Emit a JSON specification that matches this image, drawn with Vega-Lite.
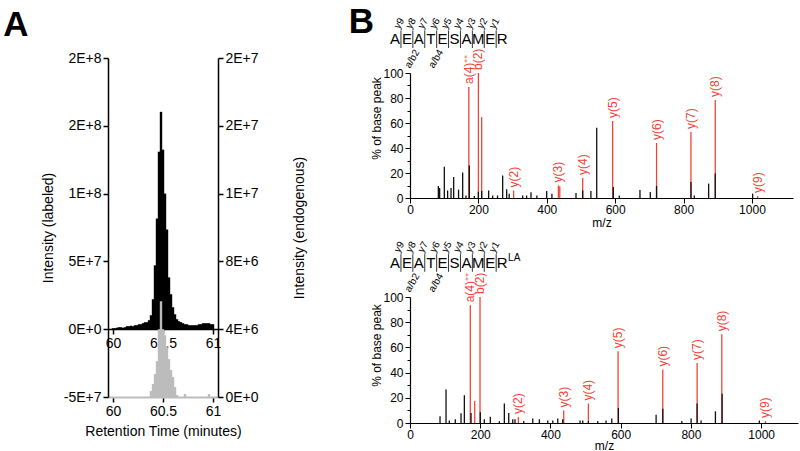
{
  "$schema": "https://vega.github.io/schema/vega-lite/v6.json",
  "background": "white",
  "padding": {"left": 3, "top": 5, "right": 2, "bottom": 0},
  "config": {
    "view": {"stroke": null},
    "axis": {"labelFont": "Liberation Sans", "titleFont": "Liberation Sans", "titleFontWeight": "normal", "labelColor": "#000", "titleColor": "#000", "domainColor": "#000", "tickColor": "#000", "grid": false, "labelFlush": false, "labelOverlap": false},
    "title": {"font": "Liberation Sans", "color": "#000"}
  },
  "datasets": {
    "chrom": [
      {"t": 60.00, "lab": 740000, "endo": 0}, {"t": 60.02, "lab": 740000, "endo": 0}, {"t": 60.04, "lab": 1100000, "endo": 0},
      {"t": 60.06, "lab": 1470000, "endo": 0}, {"t": 60.08, "lab": 1470000, "endo": 0}, {"t": 60.10, "lab": 1100000, "endo": 0},
      {"t": 60.12, "lab": 1470000, "endo": 0}, {"t": 60.14, "lab": 2200000, "endo": 0}, {"t": 60.16, "lab": 2200000, "endo": 0},
      {"t": 60.18, "lab": 2570000, "endo": 0}, {"t": 60.20, "lab": 2200000, "endo": 0}, {"t": 60.22, "lab": 2940000, "endo": 0},
      {"t": 60.24, "lab": 2940000, "endo": 0}, {"t": 60.26, "lab": 3680000, "endo": 0}, {"t": 60.28, "lab": 3680000, "endo": 0},
      {"t": 60.30, "lab": 4410000, "endo": 0}, {"t": 60.32, "lab": 5150000, "endo": 0}, {"t": 60.34, "lab": 5150000, "endo": 0},
      {"t": 60.36, "lab": 6620000, "endo": 0}, {"t": 60.38, "lab": 10300000, "endo": 352900}, {"t": 60.40, "lab": 22100000, "endo": 764700},
      {"t": 60.42, "lab": 47100000, "endo": 1353000}, {"t": 60.44, "lab": 81600000, "endo": 2118000}, {"t": 60.46, "lab": 130900000, "endo": 4000000},
      {"t": 60.48, "lab": 160300000, "endo": 5647000}, {"t": 60.50, "lab": 132400000, "endo": 4000000}, {"t": 60.52, "lab": 100000000, "endo": 3647000},
      {"t": 60.54, "lab": 73500000, "endo": 2941000}, {"t": 60.56, "lab": 38200000, "endo": 2235000}, {"t": 60.58, "lab": 25700000, "endo": 1588000},
      {"t": 60.60, "lab": 16200000, "endo": 1176000}, {"t": 60.62, "lab": 11000000, "endo": 588000}, {"t": 60.64, "lab": 7350000, "endo": 118000},
      {"t": 60.66, "lab": 5880000, "endo": 0}, {"t": 60.68, "lab": 5150000, "endo": 0}, {"t": 60.70, "lab": 4410000, "endo": 0},
      {"t": 60.72, "lab": 3680000, "endo": 176000}, {"t": 60.74, "lab": 3680000, "endo": 0}, {"t": 60.76, "lab": 2940000, "endo": 0},
      {"t": 60.78, "lab": 2940000, "endo": 0}, {"t": 60.80, "lab": 2940000, "endo": 0}, {"t": 60.82, "lab": 2940000, "endo": 0},
      {"t": 60.84, "lab": 2940000, "endo": 0}, {"t": 60.86, "lab": 3680000, "endo": 0}, {"t": 60.88, "lab": 3680000, "endo": 0},
      {"t": 60.90, "lab": 4410000, "endo": 0}, {"t": 60.92, "lab": 4410000, "endo": 0}, {"t": 60.94, "lab": 4410000, "endo": 0},
      {"t": 60.96, "lab": 4410000, "endo": 176000}, {"t": 60.98, "lab": 3680000, "endo": 0}, {"t": 61.00, "lab": 3680000, "endo": 0}
    ],
    "specTop": [
      {"mz": 172, "int": 88.8, "kind": "ion", "label": "a(4)⁺⁺"},
      {"mz": 200, "int": 100, "kind": "ion", "label": "b(2)"},
      {"mz": 209.6, "int": 64.8, "kind": "ion", "label": ""},
      {"mz": 303, "int": 6, "kind": "ion", "label": "y(2)"},
      {"mz": 434, "int": 10, "kind": "ion", "label": "y(3)"},
      {"mz": 438, "int": 9.5, "kind": "ion", "label": ""},
      {"mz": 505, "int": 16, "kind": "ion", "label": "y(4)"},
      {"mz": 592.6, "int": 61.6, "kind": "ion", "label": "y(5)"},
      {"mz": 721, "int": 44, "kind": "ion", "label": "y(6)"},
      {"mz": 821.6, "int": 52.8, "kind": "ion", "label": "y(7)"},
      {"mz": 892.7, "int": 78.4, "kind": "ion", "label": "y(8)"},
      {"mz": 1016.6, "int": 1.6, "kind": "ion", "label": "y(9)"},
      {"mz": 82.9, "int": 9.6, "kind": "other", "label": ""},
      {"mz": 86.7, "int": 8, "kind": "other", "label": ""},
      {"mz": 100.4, "int": 25, "kind": "other", "label": ""},
      {"mz": 110, "int": 6, "kind": "other", "label": ""},
      {"mz": 120, "int": 8, "kind": "other", "label": ""},
      {"mz": 127.7, "int": 16.8, "kind": "other", "label": ""},
      {"mz": 142, "int": 6.7, "kind": "other", "label": ""},
      {"mz": 154, "int": 20.5, "kind": "other", "label": ""},
      {"mz": 163.7, "int": 2, "kind": "other", "label": ""},
      {"mz": 173.5, "int": 26, "kind": "other", "label": ""},
      {"mz": 188, "int": 1.6, "kind": "other", "label": ""},
      {"mz": 200, "int": 5, "kind": "other", "label": ""},
      {"mz": 209.6, "int": 5.6, "kind": "other", "label": ""},
      {"mz": 230, "int": 6.1, "kind": "other", "label": ""},
      {"mz": 241.7, "int": 2, "kind": "other", "label": ""},
      {"mz": 256, "int": 2, "kind": "other", "label": ""},
      {"mz": 271, "int": 18, "kind": "other", "label": ""},
      {"mz": 282.7, "int": 7, "kind": "other", "label": ""},
      {"mz": 290, "int": 3.5, "kind": "other", "label": ""},
      {"mz": 329.5, "int": 2, "kind": "other", "label": ""},
      {"mz": 341, "int": 2, "kind": "other", "label": ""},
      {"mz": 353.8, "int": 4.6, "kind": "other", "label": ""},
      {"mz": 371, "int": 2, "kind": "other", "label": ""},
      {"mz": 399.7, "int": 5.6, "kind": "other", "label": ""},
      {"mz": 415, "int": 3.5, "kind": "other", "label": ""},
      {"mz": 485.4, "int": 4, "kind": "other", "label": ""},
      {"mz": 505, "int": 6, "kind": "other", "label": ""},
      {"mz": 529, "int": 5.6, "kind": "other", "label": ""},
      {"mz": 546, "int": 56.3, "kind": "other", "label": ""},
      {"mz": 594.5, "int": 8.8, "kind": "other", "label": ""},
      {"mz": 612, "int": 2, "kind": "other", "label": ""},
      {"mz": 672.5, "int": 6.4, "kind": "other", "label": ""},
      {"mz": 702.7, "int": 4.8, "kind": "other", "label": ""},
      {"mz": 721, "int": 9.6, "kind": "other", "label": ""},
      {"mz": 821.6, "int": 12.8, "kind": "other", "label": ""},
      {"mz": 831.4, "int": 2, "kind": "other", "label": ""},
      {"mz": 873.3, "int": 11.5, "kind": "other", "label": ""},
      {"mz": 892.7, "int": 19.7, "kind": "other", "label": ""},
      {"mz": 1002, "int": 3.5, "kind": "other", "label": ""}
    ],
    "specBot": [
      {"mz": 171.8, "int": 93.4, "kind": "ion", "label": "a(4)⁺⁺"},
      {"mz": 199.4, "int": 100, "kind": "ion", "label": "b(2)"},
      {"mz": 184.3, "int": 17.5, "kind": "ion", "label": ""},
      {"mz": 308.6, "int": 4.8, "kind": "ion", "label": "y(2)"},
      {"mz": 437.8, "int": 10, "kind": "ion", "label": "y(3)"},
      {"mz": 508, "int": 15.4, "kind": "ion", "label": "y(4)"},
      {"mz": 592.6, "int": 57, "kind": "ion", "label": "y(5)"},
      {"mz": 719.9, "int": 42.4, "kind": "ion", "label": "y(6)"},
      {"mz": 817.7, "int": 47.6, "kind": "ion", "label": "y(7)"},
      {"mz": 888, "int": 70.4, "kind": "ion", "label": "y(8)"},
      {"mz": 1012.3, "int": 1.5, "kind": "ion", "label": "y(9)"},
      {"mz": 85.5, "int": 5.3, "kind": "other", "label": ""},
      {"mz": 102.6, "int": 26.5, "kind": "other", "label": ""},
      {"mz": 112, "int": 2, "kind": "other", "label": ""},
      {"mz": 129, "int": 3, "kind": "other", "label": ""},
      {"mz": 145.3, "int": 7.8, "kind": "other", "label": ""},
      {"mz": 154.8, "int": 22, "kind": "other", "label": ""},
      {"mz": 173.8, "int": 8, "kind": "other", "label": ""},
      {"mz": 200.3, "int": 8.5, "kind": "other", "label": ""},
      {"mz": 211.7, "int": 3, "kind": "other", "label": ""},
      {"mz": 228.8, "int": 5, "kind": "other", "label": ""},
      {"mz": 254.5, "int": 1.5, "kind": "other", "label": ""},
      {"mz": 268.7, "int": 15.4, "kind": "other", "label": ""},
      {"mz": 281.2, "int": 8, "kind": "other", "label": ""},
      {"mz": 292.6, "int": 3, "kind": "other", "label": ""},
      {"mz": 299, "int": 3, "kind": "other", "label": ""},
      {"mz": 323.9, "int": 1.5, "kind": "other", "label": ""},
      {"mz": 349.6, "int": 3.5, "kind": "other", "label": ""},
      {"mz": 368.4, "int": 3, "kind": "other", "label": ""},
      {"mz": 392.3, "int": 2, "kind": "other", "label": ""},
      {"mz": 406.6, "int": 2, "kind": "other", "label": ""},
      {"mz": 420.8, "int": 3.5, "kind": "other", "label": ""},
      {"mz": 435, "int": 3, "kind": "other", "label": ""},
      {"mz": 484.3, "int": 2, "kind": "other", "label": ""},
      {"mz": 492, "int": 2, "kind": "other", "label": ""},
      {"mz": 508, "int": 1.5, "kind": "other", "label": ""},
      {"mz": 534.8, "int": 1.5, "kind": "other", "label": ""},
      {"mz": 558.4, "int": 2, "kind": "other", "label": ""},
      {"mz": 574.6, "int": 3.5, "kind": "other", "label": ""},
      {"mz": 593.5, "int": 12, "kind": "other", "label": ""},
      {"mz": 700.9, "int": 6.6, "kind": "other", "label": ""},
      {"mz": 719.9, "int": 11.4, "kind": "other", "label": ""},
      {"mz": 774, "int": 1.5, "kind": "other", "label": ""},
      {"mz": 800.6, "int": 3.5, "kind": "other", "label": ""},
      {"mz": 817.7, "int": 15.4, "kind": "other", "label": ""},
      {"mz": 829, "int": 2, "kind": "other", "label": ""},
      {"mz": 869.8, "int": 9.3, "kind": "other", "label": ""},
      {"mz": 888.9, "int": 23.3, "kind": "other", "label": ""},
      {"mz": 995, "int": 2, "kind": "other", "label": ""}
    ],
    "residues": [
      {"pos": 1, "aa": "A"}, {"pos": 2, "aa": "E"}, {"pos": 3, "aa": "A"}, {"pos": 4, "aa": "T"}, {"pos": 5, "aa": "E"},
      {"pos": 6, "aa": "S"}, {"pos": 7, "aa": "A"}, {"pos": 8, "aa": "M"}, {"pos": 9, "aa": "E"}, {"pos": 10, "aa": "R"}
    ],
    "cleavages": [
      {"pos": 1.5, "ion": "y9", "ab": ""}, {"pos": 2.5, "ion": "y8", "ab": "a/b2"}, {"pos": 3.5, "ion": "y7", "ab": ""},
      {"pos": 4.5, "ion": "y6", "ab": "a/b4"}, {"pos": 5.5, "ion": "y5", "ab": ""}, {"pos": 6.5, "ion": "y4", "ab": ""},
      {"pos": 7.5, "ion": "y3", "ab": ""}, {"pos": 8.5, "ion": "y2", "ab": ""}, {"pos": 9.5, "ion": "y1", "ab": ""}
    ]
  },
  "spacing": 41,
  "align": "none",
  "hconcat": [
    {
      "width": 110,
      "height": 339,
      "title": {"text": "A", "anchor": "start", "frame": "bounds", "fontSize": 35, "fontWeight": "bold", "dx": -38, "offset": 8},
      "data": {"name": "chrom"},
      "layer": [
        {
          "mark": {"type": "bar", "color": "#000", "width": 2.4},
          "encoding": {
            "x": {"field": "t", "type": "quantitative", "scale": {"domain": [60, 61], "nice": false},
                  "axis": {"orient": "bottom", "offset": -68, "values": [60, 60.5, 61], "format": "~g", "labelOverlap": false, "title": null, "labelFontSize": 14, "domainWidth": 1.5, "tickWidth": 1.5}},
            "y": {"field": "lab", "type": "quantitative", "scale": {"domain": [-50000000, 200000000], "nice": false},
                  "axis": {"orient": "left", "values": [-50000000, 0, 50000000, 100000000, 150000000, 200000000], "labelOverlap": false,
                           "labelExpr": "replace(replace(format(datum.value, '.0e'), 'e', 'E'), '\u2212', '-')",
                           "title": "Intensity (labeled)", "labelFontSize": 14, "titleFontSize": 14, "domainWidth": 1.5, "tickWidth": 1.5, "titlePadding": 8}}
          }
        },
        {
          "mark": {"type": "bar", "color": "#bcbcbc", "width": 2.4},
          "encoding": {
            "x": {"field": "t", "type": "quantitative",
                  "axis": {"orient": "bottom", "values": [60, 60.5, 61], "format": "~g", "labelOverlap": false, "title": "Retention Time (minutes)", "labelFontSize": 14, "titleFontSize": 14, "domainColor": "#bcbcbc", "domainWidth": 2, "tickWidth": 1.5, "titlePadding": 6}},
            "y": {"field": "endo", "type": "quantitative", "scale": {"domain": [0, 20000000], "nice": false},
                  "axis": {"orient": "right", "values": [0, 4000000, 8000000, 12000000, 16000000, 20000000], "labelOverlap": false,
                           "labelExpr": "replace(format(datum.value, '.0e'), 'e', 'E')",
                           "title": "Intensity (endogenous)", "titleAngle": 270, "titleBaseline": "top", "labelFontSize": 14, "titleFontSize": 14, "domainWidth": 1.5, "tickWidth": 1.5, "titlePadding": 34}}
          }
        }
      ],
      "resolve": {"scale": {"y": "independent"}, "axis": {"x": "independent", "y": "independent"}}
    },
    {
      "spacing": 12,
      "vconcat": [
        {
          "width": 383,
          "height": 140,
          "title": {"text": "B", "anchor": "start", "frame": "bounds", "fontSize": 35, "fontWeight": "bold", "dx": -22, "offset": -24},
          "layer": [
            {
              "data": {"name": "specTop"},
              "layer": [
                {
                  "transform": [{"filter": "datum.kind == 'ion'"}],
                  "mark": {"type": "rule", "color": "#f04438", "strokeWidth": 1.3},
                  "encoding": {
                    "x": {"field": "mz", "type": "quantitative", "title": "m/z", "scale": {"domain": [0, 1120], "nice": false},
                          "axis": {"values": [0,50,100,150,200,250,300,350,400,450,500,550,600,650,700,750,800,850,900,950,1000,1050,1100], "labelOverlap": false,
                                   "labelExpr": "datum.value % 200 == 0 ? format(datum.value, 'd') : ''", "labelFontSize": 12, "titleFontSize": 12,
                                   "tickSize": {"condition": {"test": "datum.value % 200 != 0", "value": 3}, "value": 5}, "titlePadding": 2, "labelPadding": 1, "domainWidth": 1.2}},
                    "y": {"field": "int", "type": "quantitative", "title": "% of base peak", "scale": {"domain": [0, 100], "nice": false, "range": [140, 15]},
                          "axis": {"values": [0,40,80], "format": "d", "labelFontSize": 12, "titleFontSize": 12, "titleY": 60,
                                   "tickSize": 5, "titlePadding": 6, "domainWidth": 1.2}},
                    "y2": {"datum": 0}
                  }
                },
                {
                  "transform": [{"filter": "datum.kind == 'other'"}],
                  "mark": {"type": "rule", "color": "#111", "strokeWidth": 1.3},
                  "encoding": {
                    "x": {"field": "mz", "type": "quantitative", "title": "m/z"},
                    "y": {"field": "int", "type": "quantitative", "title": "% of base peak"},
                    "y2": {"datum": 0}
                  }
                },
                {
                  "transform": [{"filter": "datum.label != ''"}],
                  "mark": {"type": "text", "angle": 270, "align": "left", "baseline": "middle", "dx": 3, "color": "#f04438", "fontSize": 12, "font": "Liberation Sans"},
                  "encoding": {
                    "x": {"field": "mz", "type": "quantitative", "title": "m/z"},
                    "y": {"field": "int", "type": "quantitative", "title": "% of base peak"},
                    "text": {"field": "label"}
                  }
                }
              ]
            },
            {
              "layer": [
                {
                  "data": {"name": "residues"},
                  "mark": {"type": "text", "fontSize": 15, "font": "Liberation Sans", "baseline": "middle", "align": "center", "color": "#000"},
                  "encoding": {
                    "x": {"field": "pos", "type": "quantitative", "scale": {"domain": [2.26, 34.44], "nice": false, "zero": false}, "axis": null},
                    "y": {"datum": 127, "type": "quantitative", "scale": {"domain": [0, 100], "nice": false, "range": [140, 15]},
                          "axis": {"orient": "left", "values": [20, 60, 100], "format": "d", "labelFontSize": 12, "domain": false, "tickSize": 5, "title": null}},
                    "text": {"field": "aa"}
                  }
                },
                {
                  "data": {"name": "cleavages"},
                  "mark": {"type": "rule", "color": "#333", "strokeWidth": 1},
                  "encoding": {
                    "x": {"field": "pos", "type": "quantitative"},
                    "y": {"datum": 120, "axis": {"orient": "left", "values": [10, 30, 50, 70, 90], "labels": false, "domain": false, "tickSize": 3, "title": null}},
                    "y2": {"datum": 134}
                  }
                },
                {
                  "data": {"name": "cleavages"},
                  "mark": {"type": "text", "angle": 300, "align": "left", "baseline": "bottom", "fontSize": 10, "font": "Liberation Sans", "color": "#000"},
                  "encoding": {
                    "x": {"field": "pos", "type": "quantitative"},
                    "y": {"datum": 134, "axis": null},
                    "text": {"field": "ion"}
                  }
                },
                {
                  "data": {"name": "cleavages"},
                  "mark": {"type": "text", "angle": 300, "align": "right", "baseline": "top", "fontSize": 10, "font": "Liberation Sans", "color": "#000"},
                  "encoding": {
                    "x": {"field": "pos", "type": "quantitative"},
                    "y": {"datum": 120, "axis": null},
                    "text": {"field": "ab"}
                  }
                }
              ],
              "resolve": {"axis": {"y": "independent"}}
            }
          ],
          "resolve": {"scale": {"x": "independent", "y": "independent"}}
        },
        {
          "width": 388,
          "height": 126,
          "layer": [
            {
              "data": {"name": "specBot"},
              "layer": [
                {
                  "transform": [{"filter": "datum.kind == 'ion'"}],
                  "mark": {"type": "rule", "color": "#f04438", "strokeWidth": 1.3},
                  "encoding": {
                    "x": {"field": "mz", "type": "quantitative", "title": "m/z", "scale": {"domain": [0, 1105], "nice": false},
                          "axis": {"values": [0,50,100,150,200,250,300,350,400,450,500,550,600,650,700,750,800,850,900,950,1000,1050,1100], "labelOverlap": false,
                                   "labelExpr": "datum.value % 200 == 0 ? format(datum.value, 'd') : ''", "labelFontSize": 12, "titleFontSize": 12,
                                   "tickSize": {"condition": {"test": "datum.value % 200 != 0", "value": 3}, "value": 5}, "titlePadding": 0, "labelPadding": 1, "domainWidth": 1.2}},
                    "y": {"field": "int", "type": "quantitative", "title": "% of base peak", "scale": {"domain": [0, 100], "nice": false},
                          "axis": {"values": [0,40,80], "format": "d", "labelFontSize": 12, "titleFontSize": 12, "titleY": 48,
                                   "tickSize": 5, "titlePadding": 6, "domainWidth": 1.2}},
                    "y2": {"datum": 0}
                  }
                },
                {
                  "transform": [{"filter": "datum.kind == 'other'"}],
                  "mark": {"type": "rule", "color": "#111", "strokeWidth": 1.3},
                  "encoding": {
                    "x": {"field": "mz", "type": "quantitative", "title": "m/z"},
                    "y": {"field": "int", "type": "quantitative", "title": "% of base peak"},
                    "y2": {"datum": 0}
                  }
                },
                {
                  "transform": [{"filter": "datum.label != ''"}],
                  "mark": {"type": "text", "angle": 270, "align": "left", "baseline": "middle", "dx": 3, "color": "#f04438", "fontSize": 12, "font": "Liberation Sans"},
                  "encoding": {
                    "x": {"field": "mz", "type": "quantitative", "title": "m/z"},
                    "y": {"field": "int", "type": "quantitative", "title": "% of base peak"},
                    "text": {"field": "label"}
                  }
                }
              ]
            },
            {
              "layer": [
                {
                  "data": {"name": "residues"},
                  "mark": {"type": "text", "fontSize": 15, "font": "Liberation Sans", "baseline": "middle", "align": "center", "color": "#000"},
                  "encoding": {
                    "x": {"field": "pos", "type": "quantitative", "scale": {"domain": [2.26, 34.86], "nice": false, "zero": false}, "axis": null},
                    "y": {"datum": 127, "type": "quantitative", "scale": {"domain": [0, 100], "nice": false},
                          "axis": {"orient": "left", "values": [20, 60, 100], "format": "d", "labelFontSize": 12, "domain": false, "tickSize": 5, "title": null}},
                    "text": {"field": "aa"}
                  }
                },
                {
                  "data": {"name": "cleavages"},
                  "mark": {"type": "rule", "color": "#333", "strokeWidth": 1},
                  "encoding": {
                    "x": {"field": "pos", "type": "quantitative"},
                    "y": {"datum": 120, "axis": {"orient": "left", "values": [10, 30, 50, 70, 90], "labels": false, "domain": false, "tickSize": 3, "title": null}},
                    "y2": {"datum": 134}
                  }
                },
                {
                  "data": {"name": "cleavages"},
                  "mark": {"type": "text", "angle": 300, "align": "left", "baseline": "bottom", "fontSize": 10, "font": "Liberation Sans", "color": "#000"},
                  "encoding": {
                    "x": {"field": "pos", "type": "quantitative"},
                    "y": {"datum": 134, "axis": null},
                    "text": {"field": "ion"}
                  }
                },
                {
                  "data": {"name": "cleavages"},
                  "mark": {"type": "text", "angle": 300, "align": "right", "baseline": "top", "fontSize": 10, "font": "Liberation Sans", "color": "#000"},
                  "encoding": {
                    "x": {"field": "pos", "type": "quantitative"},
                    "y": {"datum": 120, "axis": null},
                    "text": {"field": "ab"}
                  }
                },
                {
                  "data": {"values": [{"pos": 10.5, "tag": "LA"}]},
                  "mark": {"type": "text", "align": "left", "baseline": "middle", "fontSize": 10, "font": "Liberation Sans", "color": "#000"},
                  "encoding": {
                    "x": {"field": "pos", "type": "quantitative"},
                    "y": {"datum": 131, "axis": null},
                    "text": {"field": "tag"}
                  }
                }
              ],
              "resolve": {"axis": {"y": "independent"}}
            }
          ],
          "resolve": {"scale": {"x": "independent", "y": "independent"}}
        }
      ]
    }
  ]
}
